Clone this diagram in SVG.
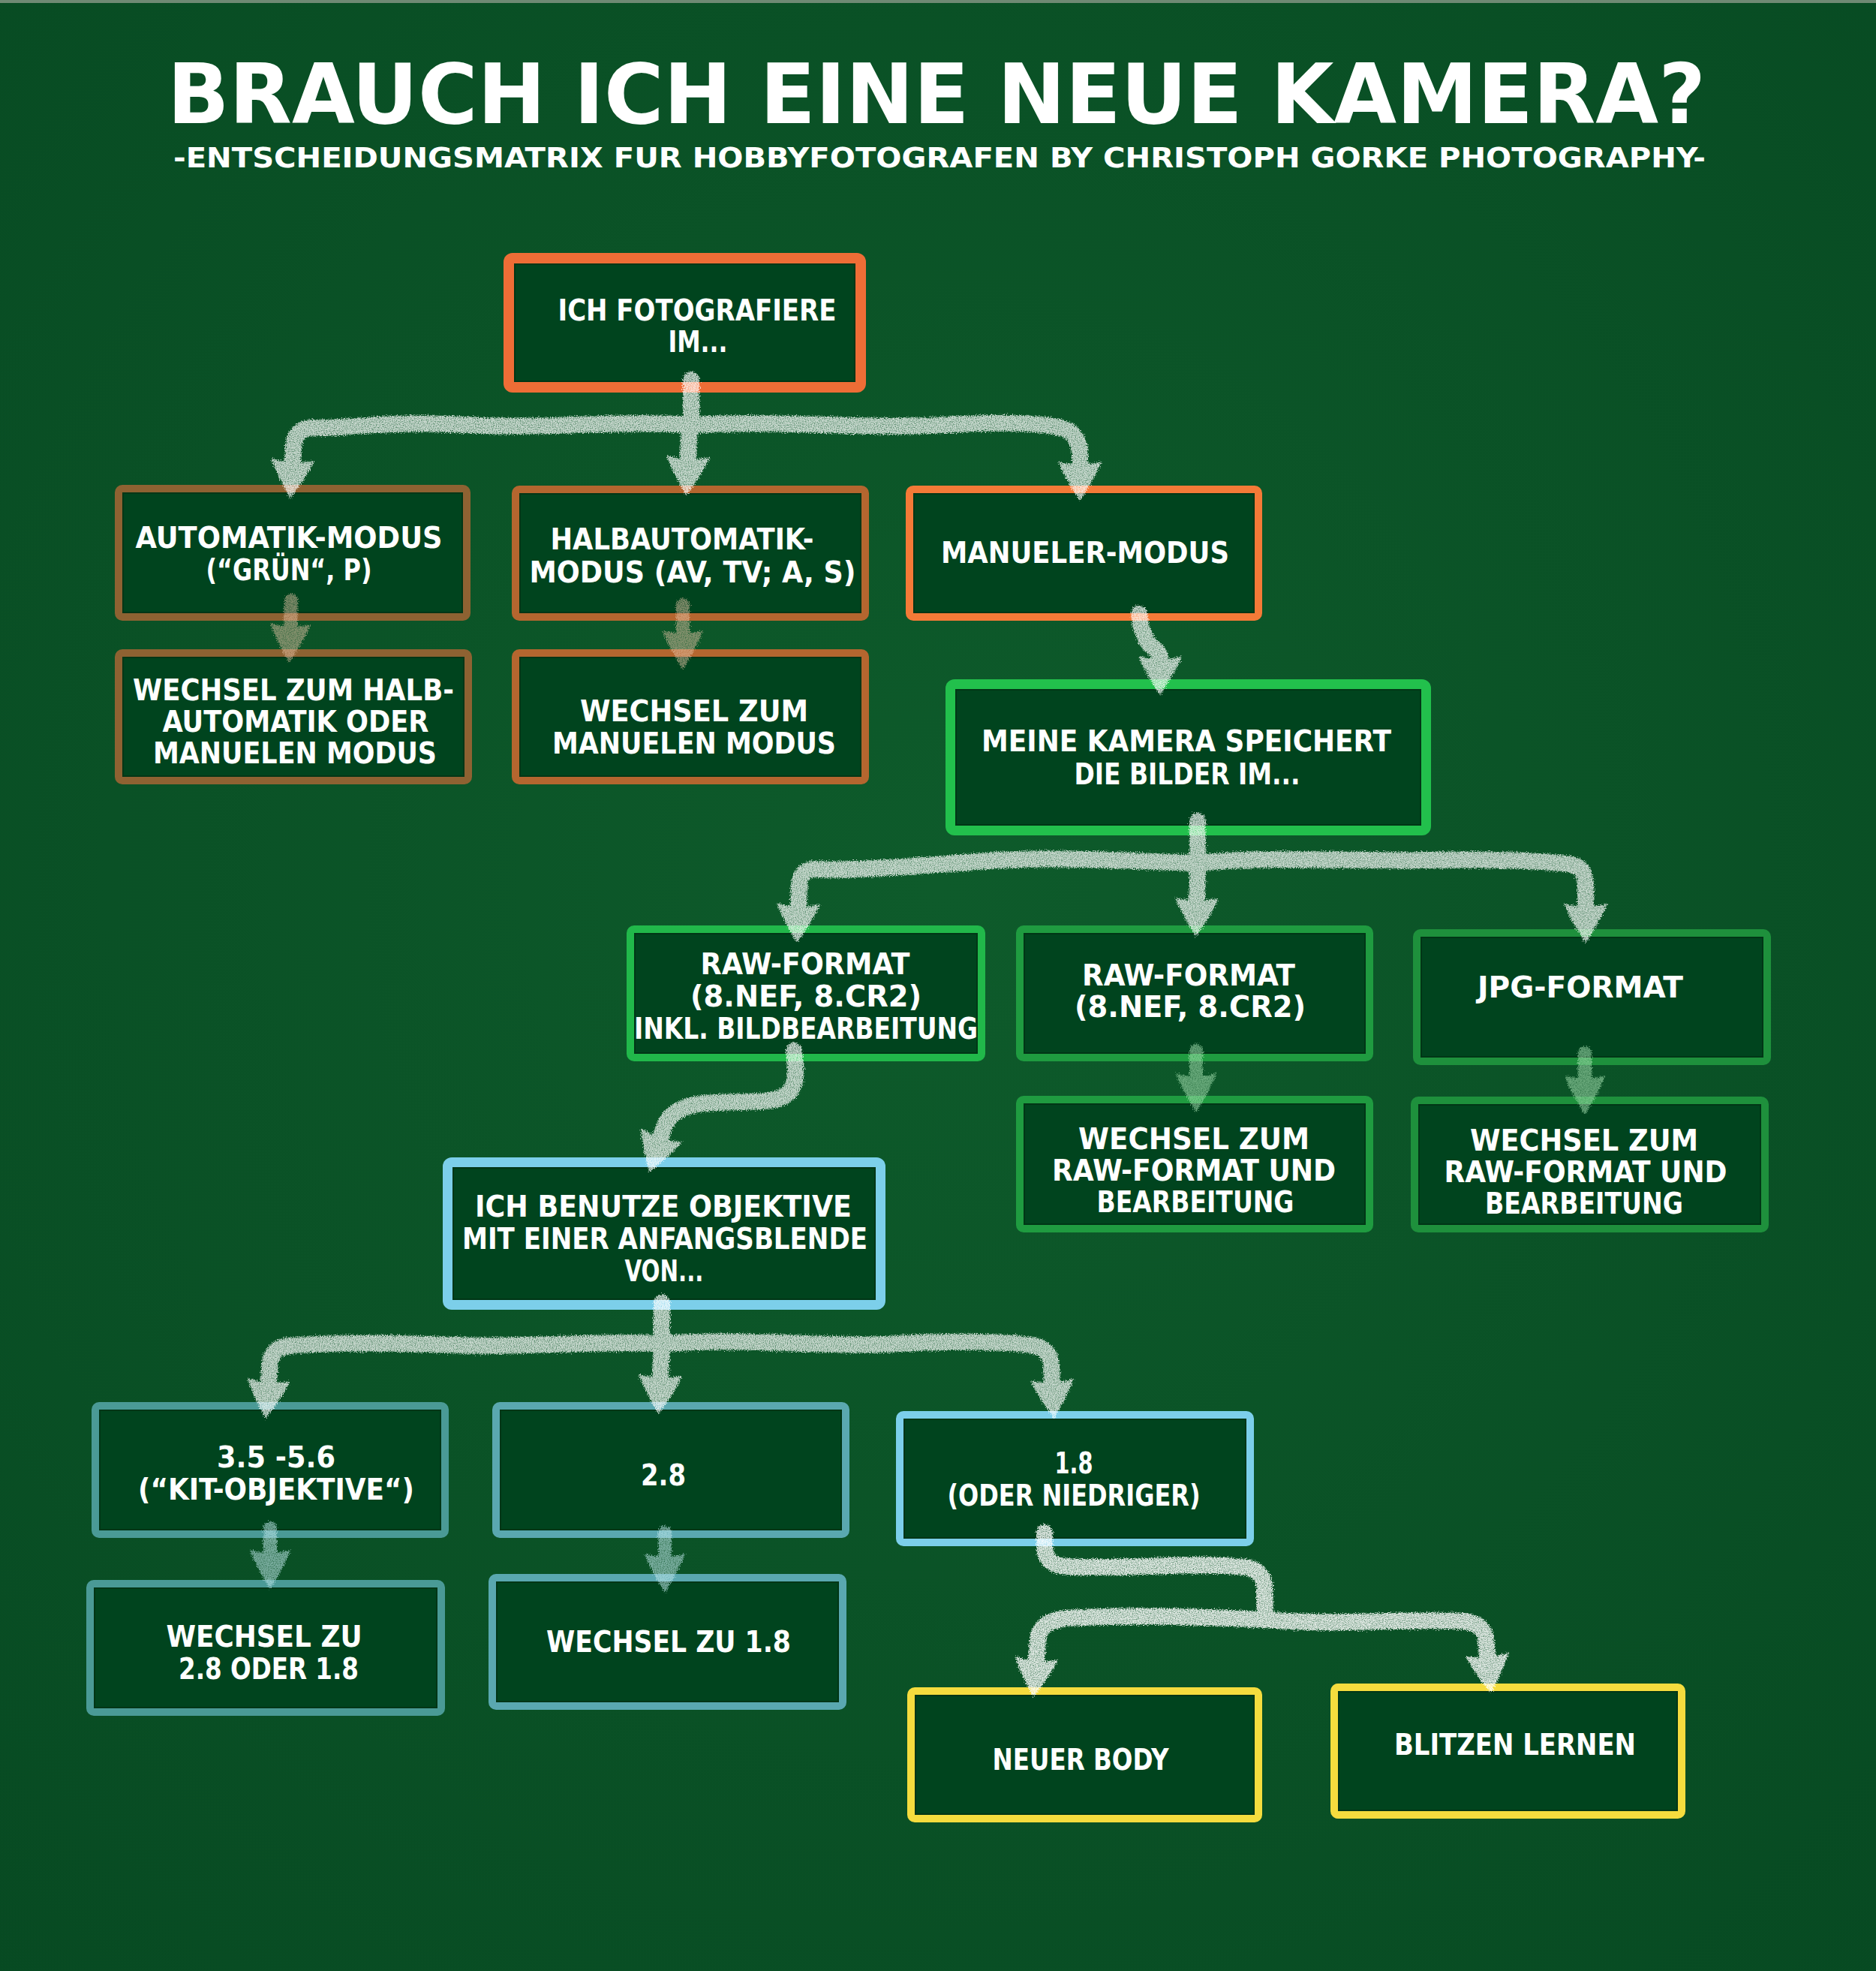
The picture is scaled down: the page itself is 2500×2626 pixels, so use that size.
<svg xmlns="http://www.w3.org/2000/svg" width="2500" height="2626" viewBox="0 0 2500 2626">
<defs>
<radialGradient id="bg" cx="50%" cy="45%" r="75%">
<stop offset="0" stop-color="#0e5b2b"/>
<stop offset="1" stop-color="#074a22"/>
</radialGradient>
<filter id="chalk" filterUnits="userSpaceOnUse" x="0" y="0" width="2500" height="2626">
<feTurbulence type="fractalNoise" baseFrequency="0.75" numOctaves="3" seed="4" result="noise"/>
<feDisplacementMap in="SourceGraphic" in2="noise" scale="9" xChannelSelector="R" yChannelSelector="G" result="d"/>
<feColorMatrix in="noise" type="matrix" values="0 0 0 0 0  0 0 0 0 0  0 0 0 0 0  0 0 0 -1.4 1.55" result="a"/>
<feComposite in="d" in2="a" operator="in"/>
</filter>
<marker id="hw" markerUnits="userSpaceOnUse" markerWidth="52" markerHeight="64" viewBox="0 0 52 64" refX="2" refY="32" orient="auto">
<path d="M0,3 Q22,12 52,32 Q22,52 0,61 Q8,32 0,3 Z" fill="#ffffff"/>
</marker>
<marker id="hb" markerUnits="userSpaceOnUse" markerWidth="52" markerHeight="60" viewBox="0 0 52 60" refX="2" refY="30" orient="auto">
<path d="M0,3 Q22,11 52,30 Q22,49 0,57 Q8,30 0,3 Z" fill="#e6c2a6"/>
</marker>
<marker id="hg" markerUnits="userSpaceOnUse" markerWidth="52" markerHeight="60" viewBox="0 0 52 60" refX="2" refY="30" orient="auto">
<path d="M0,3 Q22,11 52,30 Q22,49 0,57 Q8,30 0,3 Z" fill="#a9e3b4"/>
</marker>
<marker id="ht" markerUnits="userSpaceOnUse" markerWidth="52" markerHeight="60" viewBox="0 0 52 60" refX="2" refY="30" orient="auto">
<path d="M0,3 Q22,11 52,30 Q22,49 0,57 Q8,30 0,3 Z" fill="#bfe6ea"/>
</marker>
</defs>
<style>
.bx{stroke:none}
.in{fill:#00441e;stroke:#013616;stroke-width:2}
.t{font-family:"Liberation Sans Narrow","DejaVu Sans Condensed","Liberation Sans",sans-serif;font-size:39px;font-weight:bold;fill:#ffffff;text-anchor:middle}
.ttl{font-family:"Liberation Sans Narrow","DejaVu Sans Condensed","Liberation Sans",sans-serif;font-weight:bold;fill:#ffffff;text-anchor:middle}
.or{fill:#ee6d36}
.or2{fill:#f47a37}
.br{fill:#8e6232}
.br2{fill:#b4662f}
.g1{fill:#22c04c}
.g2{fill:#21b84a}
.g3{fill:#1f9b40}
.g4{fill:#1e903c}
.lb{fill:#7ccfea}
.tl{fill:#4a9a96}
.tl2{fill:#5aa8b0}
.ye{fill:#f5dc3e}
.cw path{fill:none;stroke:#ffffff;stroke-width:22;stroke-linecap:round;stroke-linejoin:round}
.cb path{fill:none;stroke:#e6c2a6;stroke-width:18;stroke-linecap:round}
.cg path{fill:none;stroke:#a9e3b4;stroke-width:18;stroke-linecap:round}
.ct path{fill:none;stroke:#bfe6ea;stroke-width:18;stroke-linecap:round}
</style>

<rect x="0" y="0" width="2500" height="2626" fill="url(#bg)"/>
<rect x="0" y="0" width="2500" height="4" fill="#6f8a74"/>

<g id="title">
<text class="ttl" x="1248" y="164" font-size="110" textLength="2050" lengthAdjust="spacingAndGlyphs">BRAUCH ICH EINE NEUE KAMERA?</text>
<text class="ttl" x="1252" y="223" font-size="37" textLength="2042" lengthAdjust="spacingAndGlyphs">-ENTSCHEIDUNGSMATRIX FUR HOBBYFOTOGRAFEN BY CHRISTOPH GORKE PHOTOGRAPHY-</text>
</g>

<g id="n-start">
<rect class="bx or" x="671" y="337" width="483" height="186" rx="12"/>
<rect class="in" x="686" y="352" width="453" height="156"/>
<text class="t" x="929" y="427" textLength="371" lengthAdjust="spacingAndGlyphs">ICH FOTOGRAFIERE</text>
<text class="t" x="930" y="469" textLength="79" lengthAdjust="spacingAndGlyphs">IM...</text>
</g>

<g id="n-auto">
<rect class="bx br" x="153" y="646" width="474" height="181" rx="10"/>
<rect class="in" x="164" y="657" width="452" height="159"/>
<text class="t" x="385" y="730" textLength="409" lengthAdjust="spacingAndGlyphs">AUTOMATIK-MODUS</text>
<text class="t" x="385" y="773" textLength="221" lengthAdjust="spacingAndGlyphs">(“GRÜN“, P)</text>
</g>

<g id="n-halb">
<rect class="bx br2" x="682" y="647" width="476" height="180" rx="10"/>
<rect class="in" x="693" y="658" width="454" height="158"/>
<text class="t" x="909" y="732" textLength="351" lengthAdjust="spacingAndGlyphs">HALBAUTOMATIK-</text>
<text class="t" x="923" y="776" textLength="435" lengthAdjust="spacingAndGlyphs">MODUS (AV, TV; A, S)</text>
</g>

<g id="n-manuell">
<rect class="bx or2" x="1207" y="647" width="475" height="180" rx="10"/>
<rect class="in" x="1218" y="658" width="453" height="158"/>
<text class="t" x="1446" y="750" textLength="384" lengthAdjust="spacingAndGlyphs">MANUELER-MODUS</text>
</g>

<g id="n-wechsel-halb">
<rect class="bx br" x="153" y="865" width="476" height="180" rx="10"/>
<rect class="in" x="164" y="876" width="454" height="158"/>
<text class="t" x="391" y="933" textLength="428" lengthAdjust="spacingAndGlyphs">WECHSEL ZUM HALB-</text>
<text class="t" x="394" y="975" textLength="355" lengthAdjust="spacingAndGlyphs">AUTOMATIK ODER</text>
<text class="t" x="393" y="1017" textLength="378" lengthAdjust="spacingAndGlyphs">MANUELEN MODUS</text>
</g>

<g id="n-wechsel-manuell">
<rect class="bx br2" x="682" y="865" width="476" height="180" rx="10"/>
<rect class="in" x="693" y="876" width="454" height="158"/>
<text class="t" x="925" y="961" textLength="304" lengthAdjust="spacingAndGlyphs">WECHSEL ZUM</text>
<text class="t" x="925" y="1004" textLength="378" lengthAdjust="spacingAndGlyphs">MANUELEN MODUS</text>
</g>

<g id="n-speichert">
<rect class="bx g1" x="1260" y="905" width="647" height="208" rx="12"/>
<rect class="in" x="1274" y="919" width="619" height="180"/>
<text class="t" x="1581" y="1001" textLength="546" lengthAdjust="spacingAndGlyphs">MEINE KAMERA SPEICHERT</text>
<text class="t" x="1582" y="1045" textLength="301" lengthAdjust="spacingAndGlyphs">DIE BILDER IM...</text>
</g>

<g id="n-raw-edit">
<rect class="bx g2" x="835" y="1233" width="478" height="181" rx="10"/>
<rect class="in" x="846" y="1244" width="456" height="159"/>
<text class="t" x="1073" y="1298" textLength="279" lengthAdjust="spacingAndGlyphs">RAW-FORMAT</text>
<text class="t" x="1074" y="1341" textLength="308" lengthAdjust="spacingAndGlyphs">(8.NEF, 8.CR2)</text>
<text class="t" x="1074" y="1384" textLength="458" lengthAdjust="spacingAndGlyphs">INKL. BILDBEARBEITUNG</text>
</g>

<g id="n-raw">
<rect class="bx g3" x="1354" y="1233" width="476" height="181" rx="10"/>
<rect class="in" x="1365" y="1244" width="454" height="159"/>
<text class="t" x="1584" y="1313" textLength="284" lengthAdjust="spacingAndGlyphs">RAW-FORMAT</text>
<text class="t" x="1586" y="1355" textLength="308" lengthAdjust="spacingAndGlyphs">(8.NEF, 8.CR2)</text>
</g>

<g id="n-jpg">
<rect class="bx g4" x="1883" y="1238" width="477" height="181" rx="10"/>
<rect class="in" x="1894" y="1249" width="455" height="159"/>
<text class="t" x="2106" y="1329" textLength="274" lengthAdjust="spacingAndGlyphs">JPG-FORMAT</text>
</g>

<g id="n-wechsel-raw1">
<rect class="bx g3" x="1354" y="1460" width="476" height="182" rx="10"/>
<rect class="in" x="1365" y="1471" width="454" height="160"/>
<text class="t" x="1591" y="1531" textLength="308" lengthAdjust="spacingAndGlyphs">WECHSEL ZUM</text>
<text class="t" x="1591" y="1573" textLength="378" lengthAdjust="spacingAndGlyphs">RAW-FORMAT UND</text>
<text class="t" x="1593" y="1615" textLength="263" lengthAdjust="spacingAndGlyphs">BEARBEITUNG</text>
</g>

<g id="n-wechsel-raw2">
<rect class="bx g4" x="1880" y="1461" width="477" height="181" rx="10"/>
<rect class="in" x="1891" y="1472" width="455" height="159"/>
<text class="t" x="2111" y="1533" textLength="304" lengthAdjust="spacingAndGlyphs">WECHSEL ZUM</text>
<text class="t" x="2113" y="1575" textLength="377" lengthAdjust="spacingAndGlyphs">RAW-FORMAT UND</text>
<text class="t" x="2111" y="1617" textLength="264" lengthAdjust="spacingAndGlyphs">BEARBEITUNG</text>
</g>

<g id="n-objektive">
<rect class="bx lb" x="590" y="1542" width="590" height="203" rx="12"/>
<rect class="in" x="604" y="1556" width="562" height="175"/>
<text class="t" x="884" y="1621" textLength="502" lengthAdjust="spacingAndGlyphs">ICH BENUTZE OBJEKTIVE</text>
<text class="t" x="886" y="1664" textLength="540" lengthAdjust="spacingAndGlyphs">MIT EINER ANFANGSBLENDE</text>
<text class="t" x="885" y="1707" textLength="105" lengthAdjust="spacingAndGlyphs">VON...</text>
</g>

<g id="n-kit">
<rect class="bx tl" x="122" y="1868" width="476" height="181" rx="10"/>
<rect class="in" x="133" y="1879" width="454" height="159"/>
<text class="t" x="368" y="1955" textLength="158" lengthAdjust="spacingAndGlyphs">3.5 -5.6</text>
<text class="t" x="368" y="1998" textLength="368" lengthAdjust="spacingAndGlyphs">(“KIT-OBJEKTIVE“)</text>
</g>

<g id="n-28">
<rect class="bx tl2" x="656" y="1868" width="476" height="181" rx="10"/>
<rect class="in" x="667" y="1879" width="454" height="159"/>
<text class="t" x="884" y="1979" textLength="60" lengthAdjust="spacingAndGlyphs">2.8</text>
</g>

<g id="n-18">
<rect class="bx lb" x="1194" y="1880" width="477" height="180" rx="10"/>
<rect class="in" x="1205" y="1891" width="455" height="158"/>
<text class="t" x="1431" y="1963" textLength="51" lengthAdjust="spacingAndGlyphs">1.8</text>
<text class="t" x="1431" y="2006" textLength="337" lengthAdjust="spacingAndGlyphs">(ODER NIEDRIGER)</text>
</g>

<g id="n-wechsel-28">
<rect class="bx tl" x="115" y="2105" width="478" height="181" rx="10"/>
<rect class="in" x="126" y="2116" width="456" height="159"/>
<text class="t" x="352" y="2194" textLength="261" lengthAdjust="spacingAndGlyphs">WECHSEL ZU</text>
<text class="t" x="358" y="2237" textLength="240" lengthAdjust="spacingAndGlyphs">2.8 ODER 1.8</text>
</g>

<g id="n-wechsel-18">
<rect class="bx tl2" x="651" y="2097" width="477" height="181" rx="10"/>
<rect class="in" x="662" y="2108" width="455" height="159"/>
<text class="t" x="891" y="2201" textLength="326" lengthAdjust="spacingAndGlyphs">WECHSEL ZU 1.8</text>
</g>

<g id="n-body">
<rect class="bx ye" x="1209" y="2248" width="473" height="180" rx="10"/>
<rect class="in" x="1220" y="2259" width="451" height="158"/>
<text class="t" x="1440" y="2358" textLength="235" lengthAdjust="spacingAndGlyphs">NEUER BODY</text>
</g>

<g id="n-blitz">
<rect class="bx ye" x="1773" y="2243" width="473" height="180" rx="10"/>
<rect class="in" x="1784" y="2254" width="451" height="158"/>
<text class="t" x="2019" y="2338" textLength="322" lengthAdjust="spacingAndGlyphs">BLITZEN LERNEN</text>
</g>

<g id="connectors">
<g class="cw" opacity="0.78" filter="url(#chalk)">
<path d="M921,506 L921,566"/>
<path d="M921,566 C820,560 720,572 620,566 C520,560 450,572 415,570 Q392,571 391,598 L390,614" marker-end="url(#hw)"/>
<path d="M919,566 L917,610" marker-end="url(#hw)"/>
<path d="M921,566 C1050,560 1150,572 1260,566 C1350,561 1405,564 1424,574 Q1439,584 1439,608 L1439,617" marker-end="url(#hw)"/>
<path d="M1518,818 Q1522,852 1538,864 Q1546,870 1546,876" marker-end="url(#hw)"/>
<path d="M1596,1094 L1596,1150"/>
<path d="M1596,1150 C1500,1147 1400,1140 1300,1148 C1200,1156 1120,1160 1086,1158 Q1066,1158 1065,1180 L1064,1206" marker-end="url(#hw)"/>
<path d="M1596,1150 L1595,1198" marker-end="url(#hw)"/>
<path d="M1596,1150 C1700,1140 1800,1148 1900,1146 C2000,1144 2070,1148 2094,1152 Q2113,1156 2113,1180 L2113,1206" marker-end="url(#hw)"/>
<path d="M1058,1400 C1062,1430 1063,1455 1040,1463 C1010,1472 960,1465 925,1472 Q890,1480 884,1505 L881,1514" marker-end="url(#hw)"/>
<path d="M882,1736 L882,1790"/>
<path d="M882,1790 C780,1786 700,1796 600,1792 C500,1788 420,1790 385,1793 Q362,1796 360,1815 L358,1840" marker-end="url(#hw)"/>
<path d="M882,1790 L880,1834" marker-end="url(#hw)"/>
<path d="M882,1790 C1000,1782 1100,1796 1200,1790 C1300,1785 1368,1789 1386,1795 Q1400,1802 1401,1820 L1402,1840" marker-end="url(#hw)"/>
</g>
<g class="cw" opacity="0.88" filter="url(#chalk)">
<path d="M1392,2042 L1392,2062 Q1393,2085 1420,2087 C1500,2092 1580,2080 1660,2088 Q1684,2092 1685,2115 L1686,2158"/>
<path d="M1686,2158 C1600,2154 1500,2151 1420,2156 Q1385,2160 1383,2185 L1381,2211" marker-end="url(#hw)"/>
<path d="M1686,2158 C1780,2166 1880,2156 1950,2160 Q1978,2163 1980,2185 L1982,2206" marker-end="url(#hw)"/>
</g>
<g class="cb" opacity="0.55" filter="url(#chalk)">
<path d="M388,800 L387,833" marker-end="url(#hb)"/>
<path d="M910,806 L910,842" marker-end="url(#hb)"/>
</g>
<g class="cg" opacity="0.6" filter="url(#chalk)">
<path d="M1594,1400 L1594,1432" marker-end="url(#hg)"/>
<path d="M2112,1403 L2112,1435" marker-end="url(#hg)"/>
</g>
<g class="ct" opacity="0.62" filter="url(#chalk)">
<path d="M360,2036 L360,2067" marker-end="url(#ht)"/>
<path d="M886,2042 L886,2072" marker-end="url(#ht)"/>
</g>
</g>
</svg>
